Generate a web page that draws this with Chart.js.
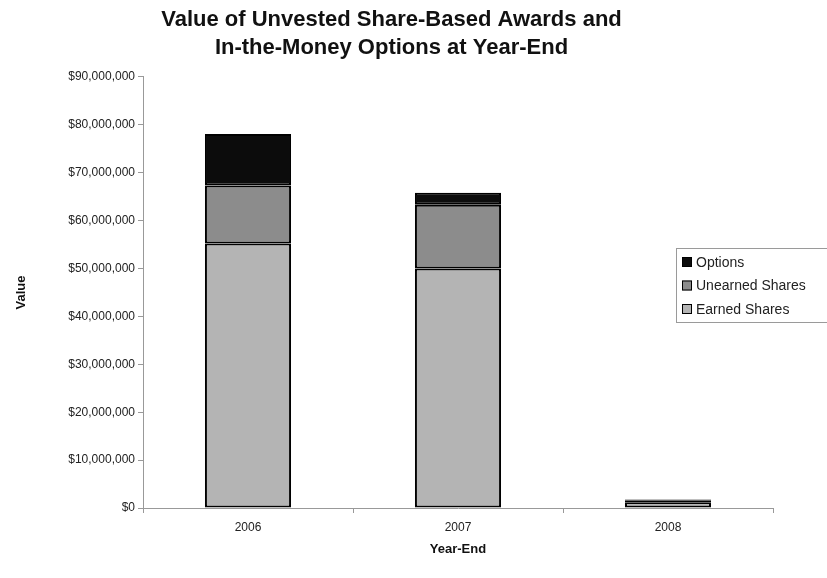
<!DOCTYPE html>
<html>
<head>
<meta charset="utf-8">
<script src="https://cdn.jsdelivr.net/npm/chart.js@4/dist/chart.umd.min.js"></script>
<style>
  html, body { margin: 0; padding: 0; background: #fff; overflow: hidden; }
  #wrap { width: 827px; height: 578px; position: relative; }
</style>
</head>
<body>
<div id="wrap"><canvas id="awards"></canvas></div>
<script>
// data
const years = ["2006", "2007", "2008"];
const earnedShares = [55200000, 50000000, 1200000];
const unearnedShares = [12100000, 13300000, 300000];
const options = [10800000, 2500000, 300000];

const seriesNames = ["Earned Shares", "Unearned Shares", "Options"];
const seriesColors = ["#b4b4b4", "#8c8c8c", "#0c0c0c"];

function money(v) {
  return "$" + Math.round(v).toLocaleString("en-US");
}

//legend drawn on top of the plot like the original (it overlaps the plot and is cut at the edge)
const floatLegend = {
  id: "floatLegend",
  afterDraw(chart) {
    const ctx = chart.ctx;
    const x = 676, y = 248;
    ctx.save();
    ctx.fillStyle = "#fff";
    ctx.fillRect(x, y, 170, 74);
    ctx.strokeStyle = "#9a9a9a";
    ctx.lineWidth = 1;
    ctx.strokeRect(x + 0.5, y + 0.5, 170, 74);
    ctx.font = "14px 'Liberation Sans', Arial, sans-serif";
    ctx.textBaseline = "middle";
    const order = [2, 1, 0];
    order.forEach((k, i) => {
      const cy = y + 14 + i * 23.5;
      ctx.fillStyle = seriesColors[k];
      ctx.fillRect(x + 6, cy - 5, 10, 10);
      ctx.strokeStyle = "#000";
      ctx.strokeRect(x + 6.5, cy - 4.5, 9, 9);
      ctx.fillStyle = "#222";
      ctx.fillText(seriesNames[k], x + 20, cy + 1);
    });
    ctx.restore();
  }
};

let ctx = document.getElementById("awards").getContext("2d");
let chart = new Chart(ctx, {
  type: "bar",
  data: {
    labels: years,
    datasets: [
      { label: seriesNames[0], data: earnedShares, backgroundColor: seriesColors[0] },
      { label: seriesNames[1], data: unearnedShares, backgroundColor: seriesColors[1] },
      { label: seriesNames[2], data: options, backgroundColor: seriesColors[2] }
    ].map(d => Object.assign(d, {
      borderColor: "#000",
      borderWidth: 2,
      borderSkipped: false,
      categoryPercentage: 1,
      barPercentage: 0.41
    }))
  },
  options: {
    responsive: true,
    maintainAspectRatio: false,
    animation: false,
    layout: { padding: { left: 10, right: 54, top: 4, bottom: 17 } },
    plugins: {
      legend: { display: false },
      tooltip: { enabled: false },
      title: {
        display: true,
        text: ["Value of Unvested Share-Based Awards and", "In-the-Money Options at Year-End"],
        color: "#111",
        font: { family: "'Liberation Sans', Arial, sans-serif", size: 22, weight: "bold", lineHeight: 1.27 },
        padding: { top: 2, bottom: 15 }
      }
    },
    scales: {
      x: {
        stacked: true,
        offset: true,
        grid: { offset: true, drawOnChartArea: false, drawTicks: true, tickLength: 5, color: "#999" },
        border: { color: "#999", width: 1 },
        ticks: { color: "#222", font: { family: "'Liberation Sans', Arial, sans-serif", size: 12 }, padding: 7 },
        title: {
          display: true, text: "Year-End", color: "#111",
          font: { family: "'Liberation Sans', Arial, sans-serif", size: 13, weight: "bold" },
          padding: { top: 0 }
        }
      },
      y: {
        stacked: true,
        min: 0,
        max: 90000000,
        grid: { drawOnChartArea: false, drawTicks: true, tickLength: 5, color: "#999" },
        border: { color: "#999", width: 1 },
        ticks: {
          stepSize: 10000000,
          color: "#222",
          font: { family: "'Liberation Sans', Arial, sans-serif", size: 12 },
          padding: 3,
          callback: v => money(v)
        },
        title: {
          display: true, text: "Value", color: "#111",
          font: { family: "'Liberation Sans', Arial, sans-serif", size: 13, weight: "bold" },
          padding: { bottom: 14 }
        },
        afterFit: s => { s.width = 133; }
      }
    }
  },
  plugins: [floatLegend]
});
</script>
</body>
</html>
